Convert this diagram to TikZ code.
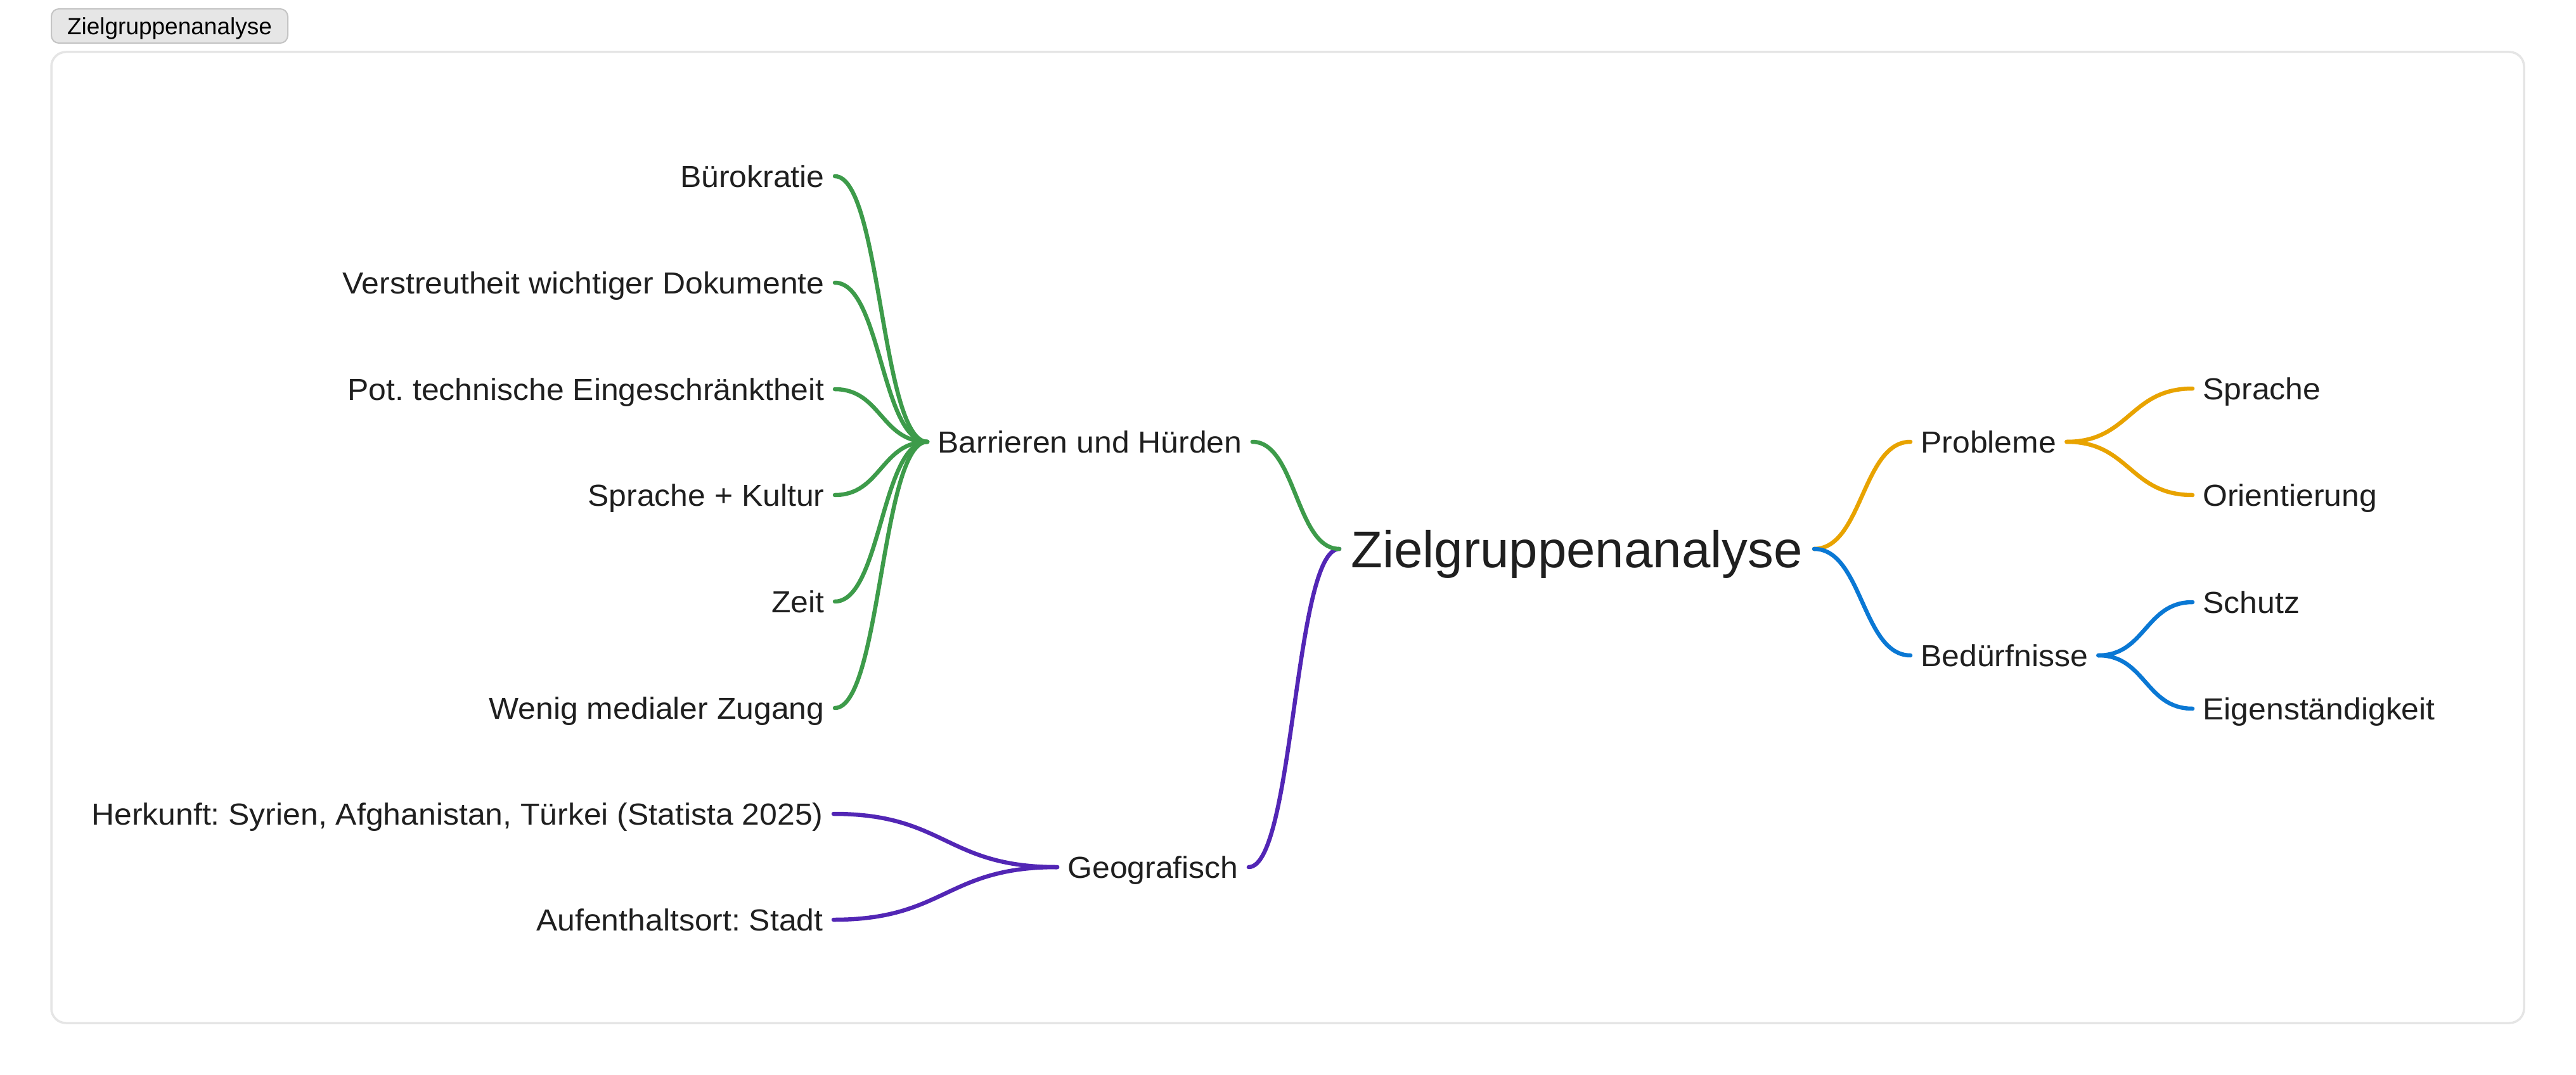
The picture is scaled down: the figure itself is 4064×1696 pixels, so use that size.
\documentclass[tikz,border=0pt]{standalone}
\usepackage{fontspec}
\setmainfont{Liberation Sans}
\newfontfamily\leaffont[FakeStretch=1.04]{Liberation Sans}
\frenchspacing
\usetikzlibrary{calc}
\definecolor{cgreen}{HTML}{3D9B4A}
\definecolor{cpurple}{HTML}{5226B5}
\definecolor{corange}{HTML}{E8A300}
\definecolor{cblue}{HTML}{0A78D4}
\definecolor{txt}{HTML}{1F1F1F}
\definecolor{framecol}{HTML}{E5E5E5}
\definecolor{tabfill}{HTML}{E6E6E6}
\definecolor{tabborder}{HTML}{C4C4C4}
\tikzset{
  leaf/.style={font=\leaffont\fontsize{24}{28}\selectfont\frenchspacing, text=txt, text height=17.2pt, text depth=0pt, inner xsep=8pt, inner ysep=0pt},
  mainnode/.style={font=\fontsize{40.8}{48}\selectfont, text=txt, text height=29.2pt, text depth=0pt, inner xsep=9pt, inner ysep=0pt},
  link/.style={line width=3.25pt, line cap=round,
    to path={let \p1=(\tikztostart), \p2=(\tikztotarget) in
      .. controls ({0.5*(\x1+\x2)},\y1) and ({0.5*(\x1+\x2)},\y2) .. (\tikztotarget)}},
  tabnode/.style={draw=tabborder, fill=tabfill, line width=1pt, rounded corners=6pt,
    font=\fontsize{18.5}{22}\selectfont, text=black, minimum width=186.5pt, minimum height=27pt,
    text height=13.2pt, text depth=0pt, inner sep=0pt},
}
\begin{document}
\begin{tikzpicture}[x=0.5pt,y=-0.5pt]
\useasboundingbox (0,0) rectangle (4064,1696);
\fill[white] (0,0) rectangle (4064,1696);
% frame
\draw[framecol, line width=1.75pt, rounded corners=11.5pt] (81,82) rectangle (3982,1614);
% tab
\node[tabnode] (tab) at (267.5,41) {Zielgruppenanalyse};
% main
\node[mainnode, anchor=west] (main) at (2113,866) {Zielgruppenanalyse};
% first level
\node[leaf, anchor=west] (bar) at (1463,697) {Barrieren und Hürden};
\node[leaf, anchor=west] (geo) at (1668,1368) {Geografisch};
\node[leaf, anchor=west] (prob) at (3014,697) {Probleme};
\node[leaf, anchor=west] (bed) at (3014,1034) {Bedürfnisse};
% left leaves
\node[leaf, anchor=east] (b1) at (1317,278) {Bürokratie};
\node[leaf, anchor=east] (b2) at (1317,446) {Verstreutheit wichtiger Dokumente};
\node[leaf, anchor=east] (b3) at (1317,614) {Pot. technische Eingeschränktheit};
\node[leaf, anchor=east] (b4) at (1317,781) {Sprache + Kultur};
\node[leaf, anchor=east] (b5) at (1317,949) {Zeit};
\node[leaf, anchor=east] (b6) at (1317,1117) {Wenig medialer Zugang};
\node[leaf, anchor=east] (g1) at (1315,1284) {Herkunft: Syrien, Afghanistan, Türkei (Statista 2025)};
\node[leaf, anchor=east] (g2) at (1315,1451) {Aufenthaltsort: Stadt};
% right leaves
\node[leaf, anchor=west] (p1) at (3459,613) {Sprache};
\node[leaf, anchor=west] (p2) at (3459,781) {Orientierung};
\node[leaf, anchor=west] (d1) at (3459,950) {Schutz};
\node[leaf, anchor=west] (d2) at (3459,1118) {Eigenständigkeit};
% connectors
\draw[link, cpurple] (main.west) to (geo.east);
\draw[link, cpurple] (geo.west) to (g1.east);
\draw[link, cpurple] (geo.west) to (g2.east);
\draw[link, cgreen] (main.west) to (bar.east);
\draw[link, cgreen] (bar.west) to (b1.east);
\draw[link, cgreen] (bar.west) to (b2.east);
\draw[link, cgreen] (bar.west) to (b3.east);
\draw[link, cgreen] (bar.west) to (b4.east);
\draw[link, cgreen] (bar.west) to (b5.east);
\draw[link, cgreen] (bar.west) to (b6.east);
\draw[link, corange] (main.east) to (prob.west);
\draw[link, corange] (prob.east) to (p1.west);
\draw[link, corange] (prob.east) to (p2.west);
\draw[link, cblue] (main.east) to (bed.west);
\draw[link, cblue] (bed.east) to (d1.west);
\draw[link, cblue] (bed.east) to (d2.west);
\end{tikzpicture}
\end{document}
